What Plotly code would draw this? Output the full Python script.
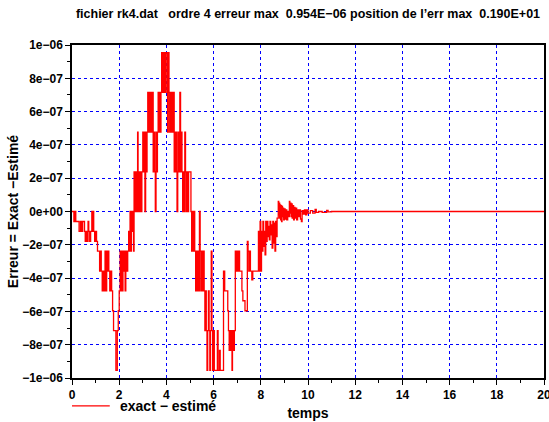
import plotly.graph_objects as go

# Error exact - estimated for the RK4 run, in units of 1e-7
t_vals = [
    0.00, 0.08, 0.13, 0.16, 0.30, 0.36, 0.40, 0.45, 0.53, 0.56, 0.60, 0.64, 0.68, 0.71, 0.75, 0.79,
    0.84, 0.86, 0.89, 0.92, 0.96, 1.00, 1.04, 1.08, 1.17, 1.21, 1.24, 1.28, 1.32, 1.35, 1.40, 1.43,
    1.47, 1.50, 1.53, 1.56, 1.60, 1.64, 1.68, 1.72, 1.76, 1.86, 1.92, 1.96, 2.00, 2.04, 2.07, 2.10,
    2.13, 2.16, 2.19, 2.22, 2.25, 2.28, 2.32, 2.36, 2.40, 2.43, 2.46, 2.49, 2.52, 2.55, 2.58, 2.61,
    2.63, 2.66, 2.69, 2.72, 2.75, 2.78, 2.80, 2.83, 2.87, 2.90, 2.93, 2.96, 3.00, 3.03, 3.06, 3.09,
    3.12, 3.15, 3.18, 3.21, 3.24, 3.27, 3.30, 3.33, 3.37, 3.40, 3.44, 3.47, 3.50, 3.53, 3.56, 3.59,
    3.62, 3.65, 3.68, 3.71, 3.74, 3.77, 3.80, 3.84, 3.87, 3.90, 3.93, 3.96, 3.99, 4.05, 4.08, 4.11,
    4.14, 4.17, 4.20, 4.23, 4.26, 4.30, 4.33, 4.36, 4.39, 4.42, 4.45, 4.48, 4.51, 4.54, 4.57, 4.60,
    4.63, 4.66, 4.69, 4.72, 4.75, 4.78, 4.81, 4.84, 4.87, 4.90, 4.94, 5.00, 5.04, 5.07, 5.10, 5.13,
    5.17, 5.20, 5.24, 5.28, 5.31, 5.34, 5.37, 5.40, 5.43, 5.46, 5.50, 5.53, 5.57, 5.60, 5.63, 5.66,
    5.69, 5.72, 5.75, 5.78, 5.81, 5.84, 5.87, 5.90, 5.93, 5.96, 6.00, 6.03, 6.16, 6.19, 6.25, 6.28,
    6.42, 6.47, 6.52, 6.60, 6.63, 6.66, 6.69, 6.72, 6.75, 6.78, 6.80, 6.84, 6.88, 6.92, 6.95, 6.98,
    7.02, 7.06, 7.10, 7.16, 7.20, 7.24, 7.33, 7.43, 7.46, 7.49, 7.52, 7.56, 7.62, 7.66, 7.90, 7.94,
    7.97, 8.00, 8.03, 8.06, 8.09, 8.12, 8.15, 8.18, 8.21, 8.24, 8.27, 8.30, 8.33, 8.36, 8.39, 8.42,
    8.45, 8.48, 8.51, 8.54, 8.57, 8.60, 8.63, 8.66, 8.69, 8.74, 8.76, 8.78, 8.80, 8.82, 8.84, 8.86,
    8.88, 8.90, 8.92, 8.94, 8.97, 9.00, 9.03, 9.06, 9.10, 9.14, 9.18, 9.21, 9.23, 9.25, 9.28, 9.30,
    9.33, 9.36, 9.39, 9.42, 9.45, 9.48, 9.52, 9.56, 9.60, 9.64, 9.68, 9.72, 9.75, 9.80, 9.85, 9.90,
    9.95, 10.00, 10.10, 10.20, 10.30, 10.35, 10.45, 10.60, 10.79, 10.85, 11.00, 12.00, 16.00, 20.00,
]
err_e7 = [
    0.00, -0.60, 0.00, -0.60, -1.19, -0.60, -1.19, -0.60, -1.19, -1.79, -1.19, -1.79, -0.60, -1.19, -1.79, -1.19,
    0.00, -1.19, 0.00, -1.19, -1.79, -1.19, -1.79, -2.38, -3.58, -2.38, -3.58, -4.77, -3.58, -4.77, -2.38, -4.77,
    -2.38, -3.58, -2.38, -3.58, -4.77, -3.58, -4.77, -5.96, -7.15, -9.54, -7.15, -5.96, -4.77, -2.38, -4.77, -2.38,
    -4.77, -2.38, -3.58, -2.38, -4.77, -2.38, -3.58, -2.38, -1.19, -2.38, 0.00, -2.38, 0.00, -1.19, 0.00, -2.38,
    2.38, 0.00, 2.38, 0.00, 2.38, 4.77, 0.00, 2.38, 0.00, 2.38, 0.00, 2.38, 4.77, 2.38, 4.77, 0.00,
    4.77, 2.38, 4.77, 7.15, 4.77, 7.15, 4.77, 7.15, 4.77, 7.15, 2.38, 4.77, 2.38, 0.00, 4.77, 2.38,
    4.77, 7.15, 4.77, 7.15, 4.77, 7.15, 9.54, 7.15, 9.54, 7.15, 9.54, 7.15, 9.54, 4.77, 9.54, 7.15,
    4.77, 7.15, 4.77, 7.15, 4.77, 7.15, 2.38, 4.77, 2.38, 4.77, 0.00, 2.38, 4.77, 2.38, 7.15, 2.38,
    4.77, 2.38, 0.00, 2.38, 0.00, 4.77, 2.38, 0.00, 2.38, 0.00, 2.38, 2.38, 0.00, -2.38, 0.00, -2.38,
    0.00, -2.38, -4.77, -2.38, -4.77, -2.38, -4.77, 0.00, -2.38, -4.77, -2.38, -4.77, -2.38, -4.77, -7.15, -4.77,
    -7.15, -9.54, -7.15, -4.77, -7.15, -9.54, -7.15, -2.38, -7.15, -9.54, -7.15, -9.54, -7.15, -9.54, -8.34, -9.54,
    -3.58, -4.77, -4.77, -5.96, -7.15, -8.34, -7.15, -8.34, -7.15, -9.54, -7.15, -8.34, -7.15, -2.38, -3.58, -2.38,
    -3.58, -2.38, -3.58, -3.58, -4.77, -5.36, -5.96, -1.79, -2.38, -3.58, -2.38, -3.58, -4.10, -3.58, -1.19, -3.58,
    -0.60, -3.58, -1.19, -2.38, -0.60, -2.10, -1.19, -2.60, -0.60, -1.79, -0.60, -1.50, -0.90, -1.70, -0.60, -1.40,
    -0.80, -2.20, -0.60, -1.90, -0.70, -2.38, -0.60, -1.50, -0.40, 0.60, -0.20, 0.50, -0.40, 0.40, -0.50, 0.35,
    -0.60, 0.30, -0.30, 0.20, -0.50, 0.15, -0.45, 0.10, -0.50, 0.00, -0.30, 0.60, -0.10, 0.50, -0.30, 0.45,
    -0.40, 0.35, -0.50, 0.25, -0.40, 0.20, -0.50, 0.10, -0.30, 0.10, -0.45, -0.60, 0.05, -0.15, 0.10, -0.20,
    0.10, -0.10, 0.05, -0.10, 0.13, -0.05, 0.00, -0.05, 0.06, -0.02, 0.00, 0.00, 0.00, 0.00,
]
UNIT = 1e-7
err = [v * UNIT for v in err_e7]

y_ticks = [1e-6, 8e-7, 6e-7, 4e-7, 2e-7, 0.0, -2e-7, -4e-7, -6e-7, -8e-7, -1e-6]
y_labels = ["1e\u221206", "8e\u221207", "6e\u221207", "4e\u221207", "2e\u221207", "0e+00",
            "\u22122e\u221207", "\u22124e\u221207", "\u22126e\u221207", "\u22128e\u221207", "\u22121e\u221206"]
x_ticks = list(range(0, 21, 2))

FONT = "Liberation Sans, Arial, Helvetica, sans-serif"
SP = "\u00a0"
title = ("fichier rk4.dat" + SP * 3 + "ordre 4 erreur max" + SP * 2 + "0.954E\u221206 position de l\u2019err max"
         + SP * 2 + "0.190E+01")
legend_label = "exact \u2212 estim\u00e9"
RED = "#ff0000"

fig = go.Figure()
fig.add_trace(go.Scatter(
    x=t_vals, y=err, mode="lines", line=dict(color=RED, width=1.3, shape="hv"),
    name=legend_label, showlegend=False,
))

axis_common = dict(
    showline=True, linecolor="black", linewidth=1.5, mirror=True,
    ticks="outside", ticklen=5, tickcolor="black", tickwidth=1,
    showgrid=True, gridcolor="#0000ff", griddash="dot", gridwidth=1,
    zeroline=False, automargin=False, ticklabeloverflow="allow",
    tickfont=dict(family=FONT, size=12, color="black", weight="bold"),
)

fig.update_xaxes(
    range=[0, 20], tickmode="array", tickvals=x_ticks, ticktext=[str(v) for v in x_ticks],
    minor=dict(ticks="outside", dtick=1, tick0=0, ticklen=3, tickcolor="black", showgrid=False),
    title=dict(text="temps", font=dict(family=FONT, size=14, color="black", weight="bold"), standoff=7),
    **axis_common,
)
fig.update_yaxes(
    range=[-1e-6, 1e-6], tickmode="array", tickvals=y_ticks, ticktext=y_labels,
    minor=dict(ticks="outside", dtick=1e-7, tick0=0, ticklen=3, tickcolor="black", showgrid=False),
    title=dict(text="Erreur = Exact \u2212Estim\u00e9", font=dict(family=FONT, size=14, color="black", weight="bold"),
               standoff=0),
    **axis_common,
)

# Legend sample drawn below the x axis, at the left
fig.add_shape(type="line", xref="paper", yref="paper", x0=0.0, x1=0.08, y0=-0.084, y1=-0.084,
              line=dict(color=RED, width=1.3))
fig.add_annotation(text=legend_label, xref="paper", yref="paper", x=0.097, y=-0.084,
                   xanchor="left", yanchor="middle", showarrow=False,
                   font=dict(family=FONT, size=14, color="black", weight="bold"))

fig.update_layout(
    width=549, height=422,
    margin=dict(l=72, r=5, t=45, b=44),
    paper_bgcolor="white", plot_bgcolor="white",
    title=dict(text=title, x=0.5, xref="paper", xanchor="center", y=1 - 14 / 422, yanchor="middle",
               font=dict(family=FONT, size=12.5, color="black", weight="bold")),
    showlegend=False,
)

fig.write_html("out.html")
